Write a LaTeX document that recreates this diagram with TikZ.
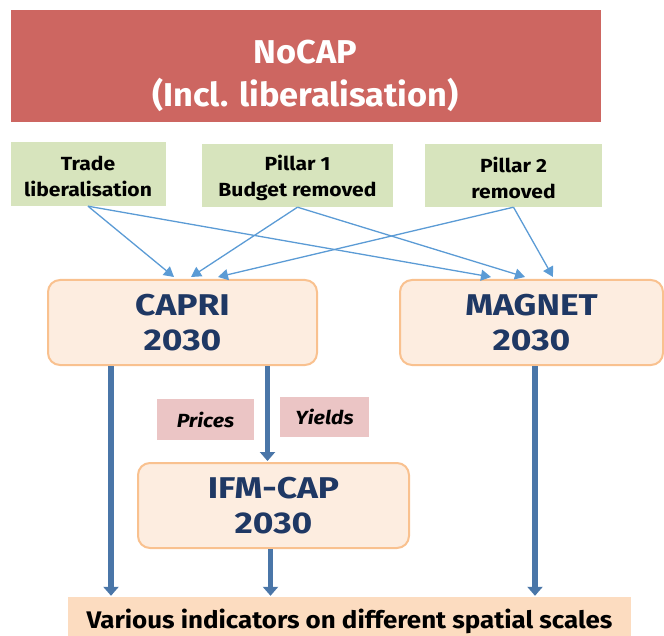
\documentclass[tikz,border=0pt]{standalone}
\usepackage{fontspec}
\setmainfont{Fira Sans}
\usetikzlibrary{arrows.meta,calc}

\definecolor{nocapred}{HTML}{CD6661}
\definecolor{measuregreen}{HTML}{D7E4BD}
\definecolor{modelfill}{HTML}{FDEDE0}
\definecolor{modeldraw}{HTML}{F9C18F}
\definecolor{flowpink}{HTML}{EBC5C5}
\definecolor{outpeach}{HTML}{FCDCC0}
\definecolor{inblue}{HTML}{5B9BD5}
\definecolor{flowblue}{HTML}{4A76A8}
\definecolor{modelnavy}{HTML}{1F3864}

\begin{document}
\begin{tikzpicture}[x=1pt,y=-1pt,
    every node/.style={inner sep=0pt,align=center},
    scenario/.style={fill=nocapred,text=white,
      font=\fontsize{33}{43}\selectfont\bfseries\addfontfeature{FakeStretch=1.04}},
    measure/.style={fill=measuregreen,
      font=\fontsize{19}{26}\selectfont\bfseries\addfontfeature{FakeStretch=1.11}},
    model/.style={rounded corners=12pt,fill=modelfill,draw=modeldraw,line width=2pt,
      text=modelnavy,font=\fontsize{30}{35}\selectfont\bfseries\addfontfeature{FakeStretch=1.18}},
    flowlabel/.style={fill=flowpink,
      font=\fontsize{19}{20}\selectfont\bfseries\itshape\addfontfeature{FakeStretch=1.12}},
    output/.style={fill=outpeach,
      font=\fontsize{24}{26}\selectfont\bfseries\addfontfeature{FakeStretch=1.08}},
    input/.style={draw=inblue,line width=1.3pt,-{Triangle[length=10pt,width=11pt]}},
    flow/.style={draw=flowblue,line width=5.5pt,-{Triangle[length=9pt,width=15pt]},shorten >=1pt}]
    \useasboundingbox (0,0) rectangle (664,636);

    % Scenario
    \node[scenario,minimum width=590pt,minimum height=112pt] (nocap) at (305.5,66.5)
      {\rule{0pt}{42pt}NoCAP\\(Incl. liberalisation)};

    % Policy changes
    \node[measure,minimum width=155pt,minimum height=64pt] (trade) at (88,174)
      {\rule{0pt}{20pt}Trade\\liberalisation};
    \node[measure,minimum width=191pt,minimum height=63pt] (pillar1) at (297.5,175.5)
      {\rule{0pt}{20pt}Pillar 1\\Budget removed};
    \node[measure,minimum width=177pt,minimum height=63pt] (pillar2) at (513.5,175.5)
      {\rule{0pt}{20pt}Pillar 2\\removed};

    % Models
    \node[model,minimum width=269pt,minimum height=85pt] (capri) at (182.5,322.5)
      {CAPRI\\2030};
    \node[model,minimum width=263pt,minimum height=85pt] (magnet) at (531.5,322.5)
      {MAGNET\\2030};
    \node[model,minimum width=271pt,minimum height=85pt] (ifmcap) at (273.5,505.5)
      {IFM-CAP\\2030};

    % Exchanged data
    \node[flowlabel,minimum width=97pt,minimum height=41pt] (prices) at (205.5,419.5) {Prices};
    \node[flowlabel,minimum width=89pt,minimum height=40pt] (yields) at (324.5,417) {Yields};

    % Results
    \node[output,minimum width=563pt,minimum height=39pt] (indic) at (349.5,616.5)
      {\rule{0pt}{30pt}Various indicators on different spatial scales};

    % Inputs into the models
    \draw[input] (trade.south) -- ($(capri.north)+(-8.5,-2)$);
    \draw[input] (trade.south) -- ($(magnet.north)+(-40.5,-2)$);
    \draw[input] (pillar1.south) -- ($(capri.north)+(8.5,-2)$);
    \draw[input] (pillar1.south) -- ($(magnet.north)+(-6.5,-2)$);
    \draw[input] (pillar2.south) -- ($(capri.north)+(35.5,-2)$);
    \draw[input] (pillar2.south) -- ($(magnet.north)+(21.5,-2)$);

    % Model links
    \coordinate (capout) at ($(capri.south)+(-71.5,0)$);
    \coordinate (caplink) at ($(capri.south)+(85,0)$);
    \coordinate (magout) at ($(magnet.south)+(3.5,0)$);
    \coordinate (ifmout) at ($(ifmcap.south)+(-3,0)$);
    \draw[flow] (capout) -- (capout |- indic.north);
    \draw[flow] (caplink) -- (caplink |- ifmcap.north);
    \draw[flow] (ifmout) -- (ifmout |- indic.north);
    \draw[flow] (magout) -- (magout |- indic.north);

  \end{tikzpicture}
\end{document}
